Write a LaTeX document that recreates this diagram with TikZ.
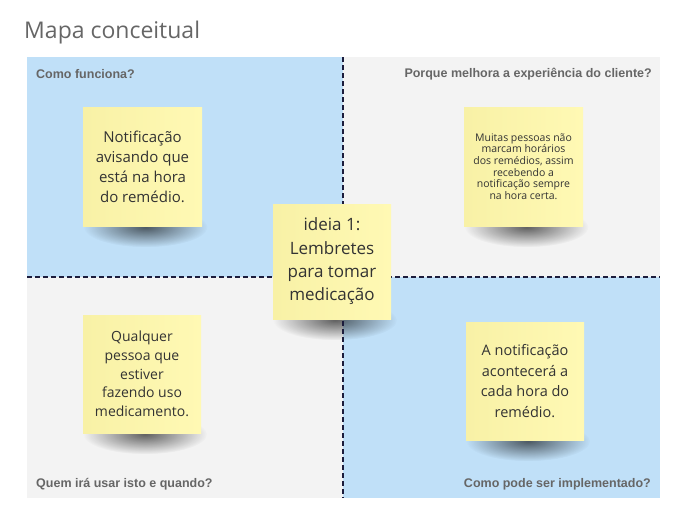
\documentclass[tikz,border=0pt]{standalone}
\usepackage{fontspec}
\setmainfont{Open Sans}
\newfontfamily\labelfont{Liberation Sans}
\usetikzlibrary{fadings}

\definecolor{quadblue}{HTML}{C0E0F8}
\definecolor{quadgray}{HTML}{F3F3F3}
\definecolor{noteyellow}{HTML}{FFF9B4}
\definecolor{notedark}{HTML}{F8F1A6}
\definecolor{labelgray}{HTML}{666666}
\definecolor{notetext}{HTML}{333333}
\definecolor{divline}{HTML}{1C1C3C}

\pgfdeclarelayer{board}
\pgfdeclarelayer{shadowlayer}
\pgfsetlayers{board,shadowlayer,main}

\tikzfading[name=softshadow, inner color=transparent!0, outer color=transparent!100]

\tikzset{
  note/.style={left color=notedark, right color=noteyellow, text=notetext,
    align=center, inner sep=0pt},
  noteshadow/.style={fill=black, opacity=.6, path fading=softshadow},
  quadlabel/.style={font=\labelfont\bfseries\fontsize{12.5}{14}\selectfont,
    text=labelgray, inner sep=0pt},
  divider/.style={divline, line width=1.2pt, dash pattern=on 5pt off 3pt}
}

\begin{document}
\begin{tikzpicture}[x=1pt,y=-1pt]
  \useasboundingbox (0,0) rectangle (687,527);
  % quadrants
  \begin{pgfonlayer}{board}
    \fill [quadblue] (27,57) rectangle (343,277);
    \fill [quadgray] (343,57) rectangle (660,277);
    \fill [quadgray] (27,277) rectangle (343,498);
    \fill [quadblue] (343,277) rectangle (660,498);
  \end{pgfonlayer}
  \draw [divider] (343,57)--(343,498);
  \draw [divider] (27,277)--(660,277);
  % titles
  \node [anchor=base west, inner sep=0pt, text=labelgray,
    font=\fontsize{23}{26}\selectfont] (title) at (24,39) {Mapa conceitual};
  \node [quadlabel, anchor=base west] (lbtl) at (36,78) {Como funciona?};
  \node [quadlabel, anchor=base east] (lbtr) at (652,77) {Porque melhora a experiência do cliente?};
  \node [quadlabel, anchor=base west] (lbbl) at (36,487) {Quem irá usar isto e quando?};
  \node [quadlabel, anchor=base east] (lbbr) at (651,487) {Como pode ser implementado?};
  % sticky notes
  \node [note, minimum width=119pt, minimum height=119pt,
    font=\fontsize{15}{20}\selectfont] (funciona) at (142.5,166.5)
    {Notificação\\avisando que\\está na hora\\do remédio.};
  \node [note, minimum width=119pt, minimum height=119pt,
    font=\fontsize{10.5}{11.7}\selectfont] (melhora) at (523.5,166.5)
    {Muitas pessoas não\\marcam horários\\dos remédios, assim\\recebendo a\\notificação sempre\\na hora certa.};
  \node [note, minimum width=118pt, minimum height=118pt,
    font=\fontsize{14}{18.7}\selectfont] (quem) at (142,374)
    {Qualquer\\pessoa que\\estiver\\fazendo uso\\medicamento.};
  \node [note, minimum width=118pt, minimum height=118pt,
    font=\fontsize{14.5}{20.5}\selectfont] (implementado) at (525,381)
    {A notificação\\acontecerá a\\cada hora do\\remédio.};
  \node [note, minimum width=118pt, minimum height=115pt,
    font=\fontsize{17}{23.3}\selectfont] (ideia) at (332,261.5)
    {ideia 1:\\Lembretes\\para tomar\\medicação};
  % shadows under the notes
  \begin{pgfonlayer}{shadowlayer}
    \foreach \n in {funciona,melhora,quem,implementado,ideia}
      \fill [noteshadow] ([shift={(3,1)}]\n.south) ellipse [x radius=62, y radius=20];
  \end{pgfonlayer}
\end{tikzpicture}
\end{document}
